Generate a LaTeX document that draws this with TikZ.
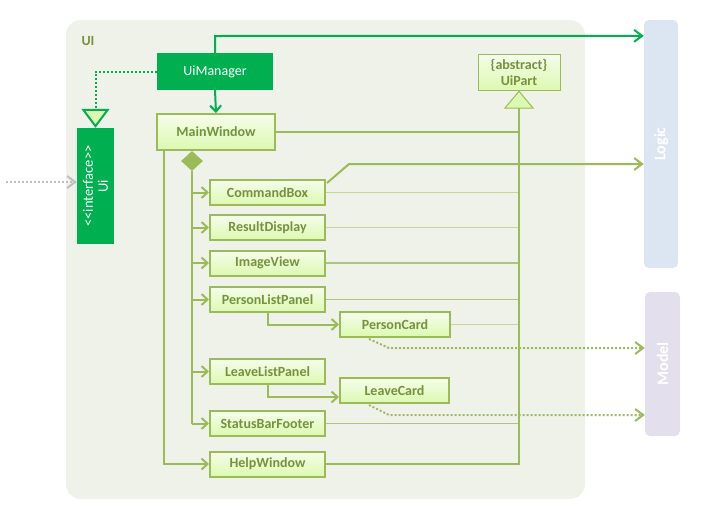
\documentclass[tikz,border=0pt]{standalone}
\usepackage{fontspec}
\setmainfont{Carlito}
\usetikzlibrary{arrows.meta,shapes.geometric,calc}
\definecolor{pkgfill}{HTML}{EFF2E8}
\definecolor{ugreen}{HTML}{00B050}
\definecolor{olive}{HTML}{9BBB59}
\definecolor{lightolive}{HTML}{C3D69B}
\definecolor{midolive}{HTML}{ADC77A}
\definecolor{textc}{HTML}{76923C}
\definecolor{logicfill}{HTML}{DCE6F2}
\definecolor{modelfill}{HTML}{E4DFEC}
\definecolor{greydot}{HTML}{BFBFBF}
\definecolor{boxtop}{HTML}{F5FDEB}
\definecolor{boxbot}{HTML}{DCF9B0}
\begin{document}
\begin{tikzpicture}[x=1pt,y=-1pt,
  font=\fontsize{14}{17}\selectfont,
  classbox/.style={draw=olive, line width=2pt, top color=boxtop, bottom color=boxbot,
    text=textc, font=\fontsize{14}{17}\selectfont\bfseries,
    minimum width=115pt, minimum height=25pt, inner sep=0pt},
  greenbox/.style={fill=ugreen, text=white, inner sep=0pt},
  layerbox/.style={rounded corners=5pt, inner sep=0pt},
  layertext/.style={rotate=90, text=white, font=\fontsize{16}{19}\selectfont\bfseries},
  openhead/.style={-{Straight Barb[length=8pt,width=12pt,line width=2pt]}},
  smallhead/.style={-{Straight Barb[length=6pt,width=11pt,line width=2pt]}},
  dotline/.style={line width=2pt, dash pattern=on 2pt off 2pt},
  partline/.style={line width=1.3pt},
]
\useasboundingbox (0,0) rectangle (712,512);

% package
\fill[pkgfill, rounded corners=15pt] (66,20) rectangle (585,499);
\node[anchor=west, text=textc, font=\fontsize{14}{17}\selectfont\bfseries] (uilabel) at (78,41) {UI};

% layers
\node[layerbox, fill=logicfill, minimum width=34pt, minimum height=248pt] (logic) at (661,144) {};
\node[layertext] (logictext) at (logic.center) {Logic};
\node[layerbox, fill=modelfill, minimum width=35pt, minimum height=144pt] (model) at (662.5,364) {};
\node[layertext] (modeltext) at (model.center) {Model};

% green classes
\node[greenbox, minimum width=116pt, minimum height=37pt] (uimgr) at (215,71.5) {UiManager};
\node[greenbox, minimum width=37pt, minimum height=116pt] (ui) at (95.5,186) {};
\node[rotate=90, text=white, align=center, font=\fontsize{14.5}{15}\selectfont] (uitext) at (ui.center) {<\kern0pt<interface>\kern0pt>\\Ui};

% classes
\node[classbox, minimum width=118pt, minimum height=36pt] (mw) at (216,132) {MainWindow};
\node[classbox, line width=1pt, minimum width=82pt, minimum height=36pt, align=center,
      font=\fontsize{14}{16}\selectfont\bfseries] (uipart) at (519,72) {\{abstract\}\\UiPart};
\node[classbox] (cb)  at (267.5,192.5) {CommandBox};
\node[classbox] (rd)  at (267.5,227.5) {ResultDisplay};
\node[classbox] (iv)  at (267.5,263)   {ImageView};
\node[classbox] (plp) at (267.5,299.5) {PersonListPanel};
\node[classbox] (llp) at (267.5,371.5) {LeaveListPanel};
\node[classbox] (sbf) at (267.5,423.5) {StatusBarFooter};
\node[classbox] (hw)  at (267.5,464)   {HelpWindow};
\node[classbox, minimum width=110pt] (pc) at (395,324.5) {PersonCard};
\node[classbox, minimum width=109pt] (lc) at (394.5,390.5) {LeaveCard};

% composition diamond
\node[diamond, fill=olive, minimum width=22pt, minimum height=20pt, inner sep=0pt] (dia) at (192,161) {};

% lines to UiPart (inheritance)
\draw[partline, olive] (mw.east) -- (mw.east -| uipart.south);
\draw[partline, lightolive] (cb.east) -- (cb.east -| uipart.south);
\draw[partline, lightolive] (rd.east) -- (rd.east -| uipart.south);
\draw[partline, midolive] (iv.east) -- (iv.east -| uipart.south);
\draw[partline, midolive] (plp.east) -- (plp.east -| uipart.south);
\draw[partline, lightolive] (pc.east) -- (pc.east -| uipart.south);
\draw[partline, midolive] (sbf.east) -- (sbf.east -| uipart.south);
\draw[partline, olive, -{Triangle[open, length=18pt, width=30pt, line width=1pt, fill=boxbot]}]
  (hw.east) -| (uipart.south);

% UiManager connections
\draw[line width=2pt, ugreen, openhead] (uimgr.north) |- (215,36) -- ($(logic.north west)+(0,16)$);
\draw[line width=2pt, ugreen, smallhead] (uimgr.south) -- (mw.north);
\draw[dotline, ugreen, -{Triangle[open, length=19pt, width=28pt, line width=2pt, fill=boxbot]}]
  (uimgr.west) -| (ui.north);

% external dependency on Ui
\coordinate (ext) at (6,182);
\draw[dotline, greydot, openhead] (ext) -- (ext -| ui.west);

% composition tree
\draw[line width=2pt, olive] (dia.south) -- (dia.south |- sbf.west);
\foreach \n in {cb,rd,iv,plp,llp,sbf}
  \draw[line width=2pt, olive, smallhead] (dia.south |- \n.west) -- (\n.west);
\draw[line width=2pt, olive, smallhead] ($(mw.south west)+(8,0)$) |- (hw.west);

% panels to cards
\draw[line width=2pt, olive, smallhead] (plp.south) |- (pc.west);
\draw[line width=2pt, olive, smallhead] (llp.south) |- ($(lc.west)+(0,6.5)$);

% CommandBox to Logic
\draw[line width=2pt, olive, openhead] ($(cb.north east)+(1,4)$) -- (349,164) -- (logic.west |- 0,164);

% cards to Model
\draw[dotline, olive, openhead] ($(pc.south west)+(30,1)$) -- (389,348) -- (model.west |- 0,348);
\draw[dotline, olive, openhead] ($(lc.south west)+(30,1)$) -- (389,415) -- (model.west |- 0,415);
\end{tikzpicture}
\end{document}
